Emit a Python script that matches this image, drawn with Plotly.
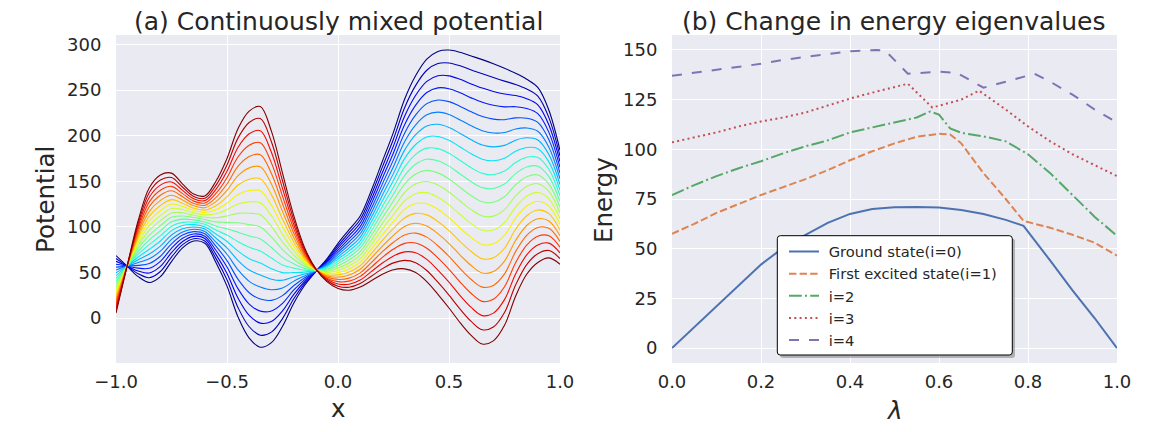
import numpy as np
import plotly.graph_objects as go

# ---- (a) potentials: end members, mixed with lambda ----
x_grid = np.round(np.linspace(-1.0, 1.0, 41), 2)

# lambda = 0 (dark blue curve)
v_start = [68.5, 57, 45.5, 39, 45.5, 62, 77, 84.5, 82, 61,
           35, 1, -22, -32, -27, -9, 16, 36, 51, 65,
           82, 97, 112, 140, 172, 204, 240, 266, 284, 292.5,
           294, 291.5, 287.5, 283.5, 279, 274, 268.5, 262, 253, 228,
           184]
# lambda = 1 (dark red curve)
v_end = [5.5, 57, 107, 143, 157, 159, 147, 136, 134, 150,
         175, 208, 227, 232, 205, 159, 113, 77, 54, 40,
         32.5, 30.5, 34, 41, 48, 53, 54, 50, 40, 26,
         11, -5, -19, -28.5, -25, -8, 24, 48, 61, 66,
         59]
mix_lambdas = np.linspace(0, 1, 21)

# ---- (b) energy eigenvalues vs lambda ----
lam0 = [0, 0.05, 0.1, 0.15, 0.2, 0.25, 0.3, 0.35, 0.4, 0.45, 0.5, 0.55, 0.6,
        0.65, 0.7, 0.75, 0.79, 0.85, 0.9, 0.95, 1.0]
e0 = [0, 10.5, 21.5, 32, 42, 50.5, 57, 63, 67.5, 70, 70.8, 71, 70.7,
      69.5, 67.5, 64.5, 61.5, 44, 29, 15, 0]

lam1 = [0, 0.05, 0.1, 0.15, 0.2, 0.25, 0.3, 0.35, 0.4, 0.45, 0.5, 0.55, 0.6,
        0.625, 0.65, 0.7, 0.75, 0.79, 0.85, 0.9, 0.95, 1.0]
e1 = [57.5, 62.5, 68, 72.5, 77, 81, 85, 89.5, 94.5, 99, 103, 106.3, 107.8,
      107.5, 103, 88, 75, 64, 60.5, 57, 53, 46.5]

lam2 = [0, 0.05, 0.1, 0.15, 0.2, 0.25, 0.3, 0.35, 0.4, 0.45, 0.5, 0.55, 0.58,
        0.6, 0.625, 0.65, 0.7, 0.75, 0.8, 0.85, 0.9, 0.95, 1.0]
e2 = [77, 82, 86.5, 90.5, 94, 98, 101.5, 104.5, 108.5, 111, 113.5, 116, 119,
      117.5, 110.5, 108.3, 106.5, 104, 97.5, 88, 77, 66, 56.5]

lam3 = [0, 0.05, 0.1, 0.15, 0.2, 0.25, 0.3, 0.35, 0.4, 0.45, 0.5, 0.53,
        0.585, 0.65, 0.69, 0.75, 0.8, 0.85, 0.9, 0.95, 1.0]
e3 = [103.5, 106, 108.5, 111.5, 114, 116, 118.5, 122, 125.5, 128.5, 131.5, 133,
      121, 125, 129.5, 120, 111.5, 104, 97.5, 92, 86.5]

lam4 = [0, 0.05, 0.1, 0.15, 0.2, 0.25, 0.3, 0.35, 0.4, 0.46, 0.48, 0.53,
        0.6, 0.64, 0.7, 0.75, 0.815, 0.85, 0.9, 0.95, 1.0]
e4 = [137, 138.5, 140, 141.5, 143, 145, 146.5, 148, 149.3, 150, 149.5, 138,
      139, 138.5, 131, 134, 138, 134, 127.5, 120, 113.5]

state_names = ["Ground state(i=0)", "First excited state(i=1)", "i=2", "i=3", "i=4"]
state_colors = ["#4C72B0", "#DD8452", "#55A868", "#C44E52", "#8172B3"]
state_dashes = ["solid", "7.4px,3.2px", "12.8px,3.2px,2px,3.2px", "2px,3.3px", "10px,10px"]

# page has an 8px body margin, so the figure is drawn 16px smaller
OFF = 8
W, H = 1152 - 2 * OFF, 432 - 2 * OFF
TXT = "#262626"
FONT = "DejaVu Sans"


def jet(v):
    # matplotlib 'jet'
    r = np.interp(v, [0, 0.35, 0.66, 0.89, 1], [0, 0, 1, 1, 0.5])
    g = np.interp(v, [0, 0.125, 0.375, 0.64, 0.91, 1], [0, 0, 1, 1, 0, 0])
    b = np.interp(v, [0, 0.11, 0.34, 0.65, 1], [0.5, 1, 1, 0, 0])
    return "rgb(%d,%d,%d)" % (r * 255, g * 255, b * 255)


# screen pixel -> paper fraction
def px(x):
    return (x - OFF) / W


def py(y):
    return 1 - (y - OFF) / H


fig = go.Figure()

v_start = np.array(v_start)
v_end = np.array(v_end)
for lam in mix_lambdas:
    fig.add_trace(go.Scatter(
        x=x_grid, y=(1 - lam) * v_start + lam * v_end,
        mode="lines", line=dict(color=jet(lam), width=1.1, shape="spline"),
        showlegend=False, hoverinfo="skip", xaxis="x", yaxis="y"))

for k, (lx, ly) in enumerate([(lam0, e0), (lam1, e1), (lam2, e2), (lam3, e3), (lam4, e4)]):
    fig.add_trace(go.Scatter(
        x=lx, y=ly, mode="lines", name="\u00a0" + state_names[k],
        line=dict(color=state_colors[k], width=2, dash=state_dashes[k]),
        xaxis="x2", yaxis="y2"))

axis_common = dict(showgrid=True, gridcolor="white", gridwidth=1, zeroline=False,
                   showline=False, ticks="outside", tickcolor="rgba(0,0,0,0)",
                   automargin=False,
                   tickfont=dict(size=18, color=TXT, family=FONT))

fig.update_layout(
    width=W, height=H,
    margin=dict(l=0, r=0, t=0, b=0, pad=0, autoexpand=False),
    paper_bgcolor="white", plot_bgcolor="#EAEAF2",
    font=dict(family=FONT, color=TXT),
    xaxis=dict(domain=[px(116), px(560)], range=[-1, 1],
               tickvals=[-1, -0.5, 0, 0.5, 1],
               ticktext=["\u22121.0", "\u22120.5", "0.0", "0.5", "1.0"],
               ticklen=2, anchor="y", **axis_common),
    yaxis=dict(domain=[py(363), py(35)], range=[-49.3, 310.5],
               tickvals=[0, 50, 100, 150, 200, 250, 300],
               ticklen=10, anchor="x", **axis_common),
    xaxis2=dict(domain=[px(672), px(1117)], range=[0, 1],
                tickvals=[0, 0.2, 0.4, 0.6, 0.8, 1.0],
                ticktext=["0.0", "0.2", "0.4", "0.6", "0.8", "1.0"],
                ticklen=2, anchor="y2", **axis_common),
    yaxis2=dict(domain=[py(363), py(35)], range=[-7.5, 157.5],
                tickvals=[0, 25, 50, 75, 100, 125, 150],
                ticklen=10, anchor="x2", **axis_common),
    legend=dict(x=px(784), y=py(235.5), xanchor="left", yanchor="top",
                bgcolor="rgba(0,0,0,0)", borderwidth=0,
                font=dict(size=14.7, color=TXT, family=FONT),
                itemwidth=30),
)

# legend frame: shadow + rounded white box
def rounded_box(x0, y0, x1, y1, r):
    return ("M %f,%f L %f,%f Q %f,%f %f,%f L %f,%f Q %f,%f %f,%f "
            "L %f,%f Q %f,%f %f,%f L %f,%f Q %f,%f %f,%f Z" % (
                px(x0 + r), py(y0), px(x1 - r), py(y0), px(x1), py(y0), px(x1), py(y0 + r),
                px(x1), py(y1 - r), px(x1), py(y1), px(x1 - r), py(y1),
                px(x0 + r), py(y1), px(x0), py(y1), px(x0), py(y1 - r),
                px(x0), py(y0 + r), px(x0), py(y0), px(x0 + r), py(y0)))

fig.add_shape(type="path", xref="paper", yref="paper", layer="above",
              path=rounded_box(780, 238.5, 1015, 358, 3),
              fillcolor="rgba(120,120,120,0.5)", line=dict(width=0))
fig.add_shape(type="path", xref="paper", yref="paper", layer="above",
              path=rounded_box(777.3, 235.7, 1012.3, 355, 3),
              fillcolor="white", line=dict(color="black", width=1))

annotations = [
    ("(a) Continuously mixed potential", 338, 21, 25, 0),
    ("(b) Change in energy eigenvalues", 894, 21, 25, 0),
    ("x", 338, 408, 24.5, 0),
    ("<i>λ</i>", 894, 410, 24.5, 0),
    ("Potential", 45, 200, 24.5, -90),
    ("Energy", 603, 200, 24.5, -90),
]
for text, ax, ay, size, ang in annotations:
    fig.add_annotation(text=text, x=px(ax), y=py(ay), xref="paper", yref="paper",
                       xanchor="center", yanchor="middle", showarrow=False,
                       textangle=ang, font=dict(size=size, color=TXT, family=FONT))

fig.write_html("out.html")
